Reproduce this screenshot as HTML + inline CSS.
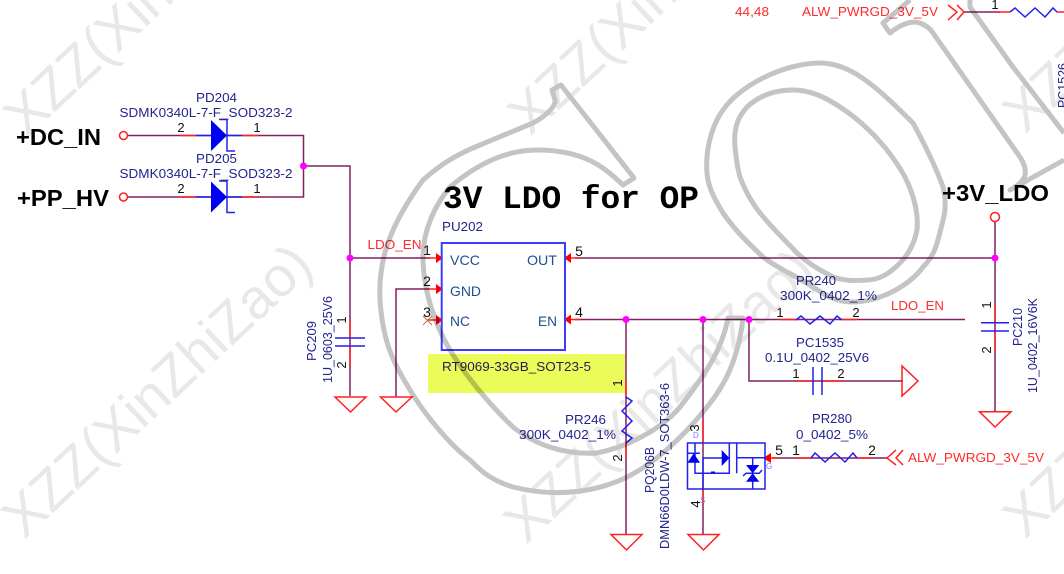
<!DOCTYPE html>
<html><head><meta charset="utf-8"><style>
html,body{margin:0;padding:0;background:#fff;width:1064px;height:574px;overflow:hidden}
svg{display:block;filter:blur(0.35px)}
text{font-family:"Liberation Sans",sans-serif}
.n{fill:#24248c;font-size:12.5px}
.r{fill:#ff2a2a;font-size:12.5px}
.k{fill:#111;font-size:14px}
.p{fill:#1f4f8f;font-size:14px}
.b{fill:#000;font-weight:bold;font-size:23px}
.w{fill:none;stroke:#84205f;stroke-width:1.5}
.s{fill:none;stroke:#ff2020;stroke-width:1.5}
.u{fill:none;stroke:#2020f0;stroke-width:1.5}
.d{fill:#ff00ff}
.m{fill:#7a7aff;font-size:8px}
.wt{fill:#e8e8e8;font-size:56px}
.g{fill:none;stroke:#c4c4c4;stroke-width:5;stroke-linejoin:round}
</style></head><body>
<svg width="1064" height="574" viewBox="0 0 1064 574" xmlns="http://www.w3.org/2000/svg">
<rect width="1064" height="574" fill="#fff"/>
<rect x="428" y="354" width="197" height="39" fill="#ebfb5a"/>

<!-- wires -->
<path class="w" d="M128 135.500H303.500V197H128M303.500 166H350V396M350 258H430M396 397V289H430M575 258H995M575 319.500H965M995 222V412M626 319.500V535M703 319.500V535M749 319.500V381H903M964 12H1000M772 458H887"/>
<!-- red stubs -->
<path class="s" d="M180 135.500H196M242 135.500H258M180 197H196M242 197H258M350 320V338M350 346V366M427 258H438M427 289H438M427 320H438M569 258H581M569 319.500H581M780 319.500H796M842 319.500H857M796 381H813M822 381H842M995 305V322M995 331V351M626 380V397M626 443V458M703 420V443M703 489V505M768 458H780M795 458H811M857 458H872M995 12H1010M1057 12H1064"/>
<!-- diodes -->
<path class="u" d="M196 135.500H242M219 119.500H227V151H235M196 197H242M219 181H227V212.500H235"/>
<path fill="#0000f0" d="M211 120L227 135.500L211 151ZM211 181.500L227 197L211 212.500Z"/>
<!-- arrows -->
<path fill="#ff0000" d="M443 258L436 253V263ZM443 289L436 284V294ZM443 320L436 315V325ZM564 258L571 253V263ZM564 319.500L571 314.500V324.500ZM763 458L771 453V463Z"/>
<path d="M423 316L432 325M432 316L423 325" stroke="#b5754a" stroke-width="1" fill="none"/>
<!-- IC -->
<rect x="441.700" y="243" width="123.300" height="107" fill="none" stroke="#3c3cff" stroke-width="2"/>
<!-- caps -->
<path class="u" d="M335 338H365M335 346H365M981 322.700H1009M981 331H1009M813 367V395M822 367V395"/>
<!-- resistors -->
<path class="u" d="M626 397L632 401L622 411L632 421L622 431L632 438L626 443M796 320L801 316L810 324L820 316L830 324L837 316L842 320M811 458L815 453L825 462L835 453L845 462L853 453L857 458M1010 12L1015 8L1025 17L1035 8L1045 17L1053 8L1057 12"/>
<!-- grounds -->
<path class="s" d="M335 397H366L350.500 412ZM380.500 397H412L396 412ZM611 534.500H642L626.500 550ZM688 534.500H719L703.500 550ZM979.500 411.700H1011L995 427ZM902 366V396L918 381Z"/>
<!-- pins circles & chevrons -->
<g fill="#fff" stroke="#ff2020" stroke-width="1.5"><circle cx="123.500" cy="135.500" r="4"/><circle cx="123.500" cy="197" r="4"/><circle cx="995" cy="217" r="4.500"/></g>
<path class="s" d="M948 5L957 12L948 20M957 5L964 12L957 20M896 450L887 458L896 465M903 450L896 458L903 465"/>
<!-- MOSFET -->
<path class="u" d="M687.500 443H765V489H687.500ZM703 489V458H723M729.300 443V473.300H695V443M687.500 453.300H700M736.700 443V473.300M736.700 457.700H765M752.700 457.700V489M743 476L746 473.300H759.300L762 470"/>
<path fill="#0000f0" d="M721.700 450L729.300 458L721.700 466ZM693.700 453.300L700 462.700H687.500ZM746 465H759.300L752.700 473.300ZM752.700 473.300L759.300 481.700H746Z"/>
<rect x="711" y="471.500" width="4" height="1.500" fill="#0000f0"/>
<!-- junctions -->
<g class="d"><circle cx="303.500" cy="166" r="3.500"/><circle cx="350" cy="258" r="3.500"/><circle cx="626" cy="319.500" r="3.500"/><circle cx="703" cy="319.500" r="3.500"/><circle cx="749" cy="319.500" r="3.500"/><circle cx="995" cy="258" r="3.500"/></g>

<!-- text -->
<text class="b" x="16" y="145" textLength="85" lengthAdjust="spacingAndGlyphs">+DC_IN</text>
<text class="b" x="17" y="206" textLength="92" lengthAdjust="spacingAndGlyphs">+PP_HV</text>
<text class="b" x="942" y="201" textLength="107" lengthAdjust="spacingAndGlyphs">+3V_LDO</text>
<text x="443" y="208" textLength="256" lengthAdjust="spacingAndGlyphs" style="font-family:'Liberation Mono',monospace;font-weight:bold;font-size:32px;fill:#000">3V LDO for OP</text>

<text class="n" x="196" y="102" textLength="41" lengthAdjust="spacingAndGlyphs">PD204</text>
<text class="n" x="119.500" y="117" textLength="173" lengthAdjust="spacingAndGlyphs">SDMK0340L-7-F_SOD323-2</text>
<text class="n" x="196" y="163" textLength="41" lengthAdjust="spacingAndGlyphs">PD205</text>
<text class="n" x="119.500" y="178" textLength="173" lengthAdjust="spacingAndGlyphs">SDMK0340L-7-F_SOD323-2</text>
<g class="k" style="font-size:13px" text-anchor="middle">
<text x="181" y="132">2</text><text x="257" y="132">1</text><text x="181" y="193">2</text><text x="257" y="193">1</text>
</g>
<text class="n" x="442" y="231" textLength="41" lengthAdjust="spacingAndGlyphs">PU202</text>
<text class="r" x="367.500" y="249" textLength="54" lengthAdjust="spacingAndGlyphs">LDO_EN</text>
<g class="k" text-anchor="middle"><text x="427" y="255">1</text><text x="427" y="286">2</text><text x="427" y="317">3</text><text x="579" y="256">5</text><text x="579" y="317">4</text></g>
<text class="p" x="450" y="265" textLength="30" lengthAdjust="spacingAndGlyphs">VCC</text>
<text class="p" x="450" y="296" textLength="31" lengthAdjust="spacingAndGlyphs">GND</text>
<text class="p" x="450" y="326" textLength="20" lengthAdjust="spacingAndGlyphs">NC</text>
<text class="p" x="527" y="265" textLength="30" lengthAdjust="spacingAndGlyphs">OUT</text>
<text class="p" x="538" y="326" textLength="19" lengthAdjust="spacingAndGlyphs">EN</text>
<text x="442" y="371" textLength="149" lengthAdjust="spacingAndGlyphs" style="font-size:12.5px;fill:#24244a">RT9069-33GB_SOT23-5</text>

<text class="n" x="565" y="424" textLength="41" lengthAdjust="spacingAndGlyphs">PR246</text>
<text class="n" x="519" y="439" textLength="97" lengthAdjust="spacingAndGlyphs">300K_0402_1%</text>
<text class="n" transform="translate(654 493) rotate(-90)" textLength="46" lengthAdjust="spacingAndGlyphs">PQ206B</text>
<text class="n" transform="translate(669 549) rotate(-90)" textLength="166" lengthAdjust="spacingAndGlyphs">DMN66D0LDW-7_SOT363-6</text>
<g class="k" style="font-size:13px" text-anchor="middle">
<text transform="translate(622 383) rotate(-90)">1</text>
<text transform="translate(622 458) rotate(-90)">2</text>
<text transform="translate(699 428) rotate(-90)">3</text>
<text transform="translate(700 504) rotate(-90)">4</text>
<text transform="translate(346 320) rotate(-90)">1</text>
<text transform="translate(346 365) rotate(-90)">2</text>
<text transform="translate(991 305) rotate(-90)">1</text>
<text transform="translate(991 350) rotate(-90)">2</text>
<text x="780" y="317">1</text><text x="856" y="317">2</text>
<text x="796" y="378">1</text><text x="841" y="378">2</text>
<text x="995" y="9">1</text>
</g>
<g class="k" text-anchor="middle"><text x="779" y="455">5</text><text x="796" y="455">1</text><text x="872" y="455">2</text></g>
<text class="m" x="693" y="438">D</text><text class="m" x="700" y="503">S</text><text class="m" x="766" y="469">G</text>

<text class="n" transform="translate(316 361) rotate(-90)" textLength="40" lengthAdjust="spacingAndGlyphs">PC209</text>
<text class="n" transform="translate(332 383) rotate(-90)" textLength="87" lengthAdjust="spacingAndGlyphs">1U_0603_25V6</text>
<text class="n" transform="translate(1022 346) rotate(-90)" textLength="38" lengthAdjust="spacingAndGlyphs">PC210</text>
<text class="n" transform="translate(1037 393) rotate(-90)" textLength="95" lengthAdjust="spacingAndGlyphs">1U_0402_16V6K</text>
<text class="n" transform="translate(1067 108) rotate(-90)" textLength="45" lengthAdjust="spacingAndGlyphs">PC1526</text>

<text class="n" x="796" y="285" textLength="40" lengthAdjust="spacingAndGlyphs">PR240</text>
<text class="n" x="780" y="300" textLength="97" lengthAdjust="spacingAndGlyphs">300K_0402_1%</text>
<text class="r" x="891" y="310" textLength="53" lengthAdjust="spacingAndGlyphs">LDO_EN</text>
<text class="n" x="796" y="347" textLength="48" lengthAdjust="spacingAndGlyphs">PC1535</text>
<text class="n" x="765" y="362" textLength="104" lengthAdjust="spacingAndGlyphs">0.1U_0402_25V6</text>
<text class="n" x="812" y="423" textLength="40" lengthAdjust="spacingAndGlyphs">PR280</text>
<text class="n" x="796" y="439" textLength="72" lengthAdjust="spacingAndGlyphs">0_0402_5%</text>
<text class="r" x="908" y="462" textLength="136" lengthAdjust="spacingAndGlyphs">ALW_PWRGD_3V_5V</text>
<text class="r" x="735" y="16" textLength="34" lengthAdjust="spacingAndGlyphs">44,48</text>
<text class="r" x="802" y="16" textLength="136" lengthAdjust="spacingAndGlyphs">ALW_PWRGD_3V_5V</text>

<!-- watermark -->
<g style="mix-blend-mode:multiply">
<g class="wt">
<text transform="translate(26 139) rotate(-43)">XZZ(XinZhiZao)</text>
<text transform="translate(24 540) rotate(-43)">XZZ(XinZhiZao)</text>
<text transform="translate(530 137) rotate(-43)">XZZ(XinZhiZao)</text>
<text transform="translate(526 545) rotate(-43)">XZZ(XinZhiZao)</text>
<text transform="translate(1025 135) rotate(-43)">XZZ(XinZhiZao)</text>
<text transform="translate(1025 540) rotate(-43)">XZZ(XinZhiZao)</text>
</g>
<path class="g" d="M561 85L634 178L623 185C605 168 585 150 537 150C500 150 470 170 450 187C435 205 423 230 423 257C423 290 435 325 450 350C465 375 490 405 513 427C535 445 565 455 597 453C635 445 665 425 680 407C705 375 722 350 728 318L743 318C738 360 725 385 707 407C685 435 650 470 613 483C580 495 545 495 513 487C490 480 480 470 470 460C450 445 425 415 410 390C395 365 383 345 380 300C378 260 390 225 423 180C440 165 455 155 480 145L533 123C548 115 556 105 555 100L552 90Z"/>
<path class="g" d="M707 173C705 150 712 125 723 110C740 85 785 63 820 63C850 63 875 85 913 123C925 145 935 165 943 187C946 200 946 210 943 220C937 245 935 255 923 267C910 285 880 302 853 302C835 302 825 295 813 287C795 275 780 270 763 257C745 240 735 230 723 213C712 195 708 185 707 173Z"/>
<path class="g" d="M735 147C733 125 740 115 747 107C760 95 775 90 793 90C810 90 825 97 840 107C860 120 875 135 887 150C900 167 908 180 913 197C917 210 918 220 917 230C914 245 908 255 900 263C890 273 880 280 867 280C855 281 845 281 833 277C820 270 810 265 797 253C785 240 772 228 760 213C750 200 745 190 740 177C737 167 736 157 735 147Z"/>
<path class="g" d="M910 0L883 23L890 33C900 25 910 20 920 23C925 25 930 28 933 33L1020 157C1025 165 1026 170 1025 175C1024 180 1018 186 1010 190L1064 160M970 0V7L1013 67L1064 133"/>
</g>
</svg>
</body></html>
